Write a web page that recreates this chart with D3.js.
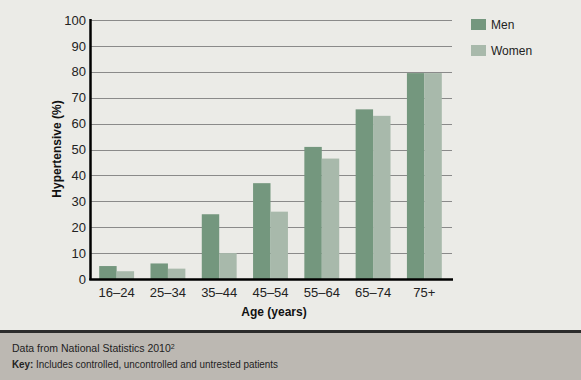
<!DOCTYPE html>
<html><head><meta charset="utf-8">
<script src="https://cdn.jsdelivr.net/npm/d3@7"></script>
<style>
html,body{margin:0;padding:0;background:#ebebe7;}
svg{display:block;}
</style></head>
<body>
<script>
const categories = ["16–24","25–34","35–44","45–54","55–64","65–74","75+"];
const seriesNames = ["Men","Women"];
const men = [5, 6, 25, 37, 51, 65.5, 79.5];
const women = [3, 4, 10, 26, 46.5, 63, 79.5];
const yTicks = [0,10,20,30,40,50,60,70,80,90,100];
const colors = ["#74977e","#a8b9ab"];

(function(){
const W = 581, H = 380;
const svg = d3.select("body").append("svg").attr("width", W).attr("height", H);
svg.append("rect").attr("width", W).attr("height", H).attr("fill", "#ebebe7");

const pL = 91, pR = 452, pT = 20, pB = 279;
const y = d3.scaleLinear().domain([0,100]).range([pB, pT]);
const x = d3.scaleBand().domain(categories).range([pL, 450]).paddingInner(0.32).paddingOuter(0.16);
const xs = d3.scaleBand().domain(seriesNames).range([0, x.bandwidth()]);

// gridlines
svg.append("g").selectAll("line").data(yTicks.filter(t => t > 0)).join("line")
  .attr("x1", pL).attr("x2", pR)
  .attr("y1", d => Math.round(y(d)) + 0.5).attr("y2", d => Math.round(y(d)) + 0.5)
  .attr("stroke", "#8a8a8a").attr("stroke-width", 1);

// bars
const data = categories.map((c, i) => ({c, vals: [men[i], women[i]]}));
const g = svg.append("g").selectAll("g").data(data).join("g")
  .attr("transform", d => `translate(${x(d.c)},0)`);
g.selectAll("rect").data(d => d.vals.map((v, j) => ({v, s: seriesNames[j], j}))).join("rect")
  .attr("x", d => xs(d.s)).attr("width", xs.bandwidth())
  .attr("y", d => y(d.v)).attr("height", d => pB - y(d.v))
  .attr("fill", d => colors[d.j]);

// y axis
const yAxis = d3.axisLeft(y).tickValues(yTicks).tickSize(0).tickPadding(5);
const ya = svg.append("g").attr("transform", `translate(${pL},0)`).call(yAxis);
ya.select(".domain").remove();
ya.selectAll("text").attr("font-family", "Liberation Sans, Arial, sans-serif").attr("font-size", 13).attr("fill", "#222");
svg.append("line").attr("x1", pL - 0.5).attr("x2", pL - 0.5).attr("y1", pT - 1).attr("y2", pB + 1)
  .attr("stroke", "#000").attr("stroke-width", 2.5);

// x axis
const xAxis = d3.axisBottom(x).tickSize(0).tickPadding(9);
const xa = svg.append("g").attr("transform", `translate(0,${pB})`).call(xAxis);
xa.select(".domain").remove();
xa.selectAll("text").attr("font-family", "Liberation Sans, Arial, sans-serif").attr("font-size", 13).attr("fill", "#222");
svg.append("line").attr("x1", pL - 1.75).attr("x2", pR + 1).attr("y1", pB + 0.5).attr("y2", pB + 0.5)
  .attr("stroke", "#000").attr("stroke-width", 2.5);

// axis titles
svg.append("text").attr("x", 274).attr("y", 316).attr("text-anchor", "middle")
  .attr("font-family", "Liberation Sans, Arial, sans-serif").attr("font-weight", "bold").attr("font-size", 12)
  .attr("fill", "#111").text("Age (years)");
svg.append("text").attr("transform", "translate(61,149) rotate(-90)").attr("text-anchor", "middle")
  .attr("font-family", "Liberation Sans, Arial, sans-serif").attr("font-weight", "bold").attr("font-size", 12)
  .attr("fill", "#111").text("Hypertensive (%)");

// legend
const lg = svg.append("g").selectAll("g").data(seriesNames).join("g")
  .attr("transform", (d, i) => `translate(471,${19 + i * 26})`);
lg.append("rect").attr("width", 15).attr("height", 11).attr("fill", (d, i) => colors[i]);
lg.append("text").attr("x", 20).attr("y", 10).attr("font-family", "Liberation Sans, Arial, sans-serif")
  .attr("font-size", 12).attr("fill", "#222").text(d => d);

// footer
svg.append("rect").attr("x", 0).attr("y", 332).attr("width", W).attr("height", H - 332).attr("fill", "#bcb8b2");
svg.append("rect").attr("x", 0).attr("y", 330).attr("width", W).attr("height", 3).attr("fill", "#2b2b2b");
const ff = "'Liberation Sans Narrow', 'Arial Narrow', 'Liberation Sans', sans-serif";
const t1 = svg.append("text").attr("x", 12).attr("y", 352).attr("font-family", ff).attr("font-size", 10.5).attr("fill", "#222");
t1.append("tspan").text("Data from National Statistics 2010");
t1.append("tspan").attr("font-size", 7).attr("dy", -3.5).text("2");
const t2 = svg.append("text").attr("x", 12).attr("y", 368).attr("font-family", ff).attr("font-size", 10.5).attr("fill", "#222")
  .attr("textLength", 266).attr("lengthAdjust", "spacingAndGlyphs");
t2.append("tspan").attr("font-weight", "bold").text("Key:");
t2.append("tspan").text(" Includes controlled, uncontrolled and untrested patients");
})();
</script>
</body></html>
